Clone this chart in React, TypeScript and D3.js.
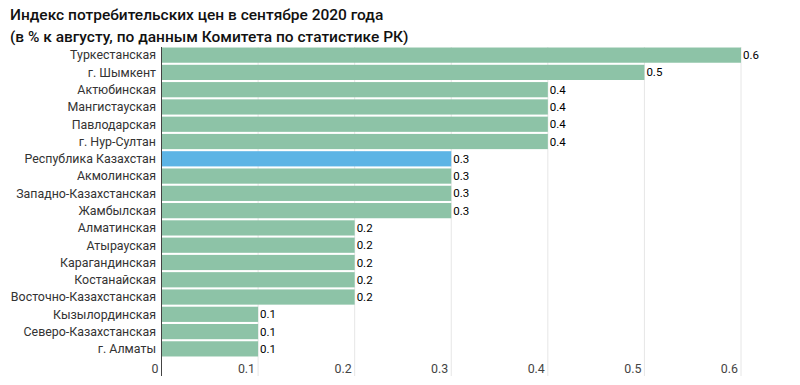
import * as d3 from "d3";

const categories = [
  "Туркестанская",
  "г. Шымкент",
  "Актюбинская",
  "Мангистауская",
  "Павлодарская",
  "г. Нур-Султан",
  "Республика Казахстан",
  "Акмолинская",
  "Западно-Казахстанская",
  "Жамбылская",
  "Алматинская",
  "Атырауская",
  "Карагандинская",
  "Костанайская",
  "Восточно-Казахстанская",
  "Кызылординская",
  "Северо-Казахстанская",
  "г. Алматы",
];
const values = [0.6, 0.5, 0.4, 0.4, 0.4, 0.4, 0.3, 0.3, 0.3, 0.3, 0.2, 0.2, 0.2, 0.2, 0.2, 0.1, 0.1, 0.1];
const ticks = [0, 0.1, 0.2, 0.3, 0.4, 0.5, 0.6];
const highlight = "Республика Казахстан";

const W = 800;
const H = 385;
const FONT = "Roboto, 'Noto Sans', sans-serif";

export default function App() {
  const x = d3.scaleLinear().domain([0, 0.6]).range([161.5, 741]);
  const y = d3.scaleBand().domain(categories).range([47, 357]).paddingInner(0.12).paddingOuter(0.03);
  const fmt = d3.format(".1f");

  return (
    <svg width={W} height={H} style={{ position: "absolute", left: 0, top: 0, background: "#fff" }} fontFamily={FONT}>
      <text x={10} y={20} fontSize={15.5} fontWeight={500} fill="#111">
        Индекс потребительских цен в сентябре 2020 года
      </text>
      <text x={10} y={42} fontSize={15.5} fontWeight={500} fill="#111">
        (в % к августу, по данным Комитета по статистике РК)
      </text>

      {ticks.slice(1).map((t) => (
        <line key={t} x1={x(t)} x2={x(t)} y1={47} y2={376} stroke="#e6e6e6" strokeWidth={1} />
      ))}

      {categories.map((c, i) => (
        <g key={c}>
          <rect
            x={x(0)}
            y={y(c)}
            width={x(values[i]) - x(0)}
            height={y.bandwidth()}
            fill={c === highlight ? "#5db4e5" : "#8dc3a7"}
          />
          <text x={x(values[i]) + 2} y={(y(c) ?? 0) + y.bandwidth() / 2} dy="0.35em" fontSize={11.5} fill="#000">
            {fmt(values[i])}
          </text>
          <text x={156} y={(y(c) ?? 0) + y.bandwidth() / 2} dy="0.35em" fontSize={12.4} fill="#333" textAnchor="end">
            {c}
          </text>
        </g>
      ))}

      <line x1={x(0)} x2={x(0)} y1={47} y2={376} stroke="#444" strokeWidth={1} />

      {ticks.map((t) => (
        <text key={t} x={x(t) - 3} y={373} fontSize={12.4} fill="#444" textAnchor="end">
          {t === 0 ? "0" : fmt(t)}
        </text>
      ))}
    </svg>
  );
}
